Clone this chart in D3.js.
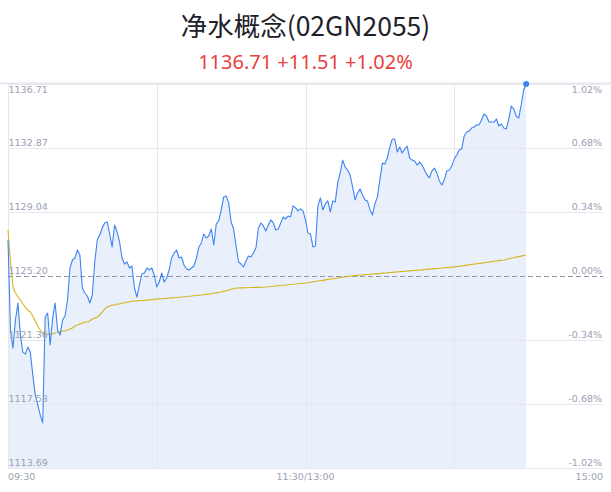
<!DOCTYPE html>
<html><head><meta charset="utf-8">
<script src="https://cdn.jsdelivr.net/npm/d3@7"></script>
<style>
html,body{margin:0;padding:0;background:#fff;}
svg{display:block;}
</style></head>
<body>
<svg id="chart" width="611" height="492"></svg>
<script>
const titleText = "净水概念(02GN2055)";
const subtitleText = "1136.71 +11.51 +1.02%";
const baseValue = 1125.20;
const priceTicks = [1136.71, 1132.87, 1129.04, 1125.20, 1121.36, 1117.53, 1113.69];
const pctTicks = ["1.02%", "0.68%", "0.34%", "0.00%", "-0.34%", "-0.68%", "-1.02%"];
const timeTickMinutes = [0, 120, 240];
const timeTickLabels = ["09:30", "11:30/13:00", "15:00"];
const verticalGridMinutes = [0, 60, 120, 180];

const prices = [
1127.36,1121.96,1120.88,1122.56,1123.58,1121.66,1120.64,1120.52,1120.94,1120.64,
1119.27,1118.07,1117.47,1116.87,1116.39,1122.74,1122.98,1121.06,1122.68,1123.58,
1121.96,1121.66,1122.56,1122.80,1123.76,1125.68,1126.16,1126.28,1126.76,1126.46,
1124.48,1124.18,1124.00,1123.58,1124.06,1126.04,1127.36,1127.66,1128.08,1128.38,
1128.44,1127.72,1126.94,1128.26,1127.84,1127.24,1126.28,1125.92,1126.04,1125.68,
1125.80,1124.48,1123.94,1124.66,1125.32,1125.38,1125.68,1125.56,1125.68,1125.26,
1124.54,1124.84,1125.38,1124.84,1125.08,1125.56,1126.28,1126.58,1126.76,1126.28,
1126.34,1125.86,1125.62,1125.56,1125.68,1125.80,1126.28,1126.94,1127.18,1127.72,
1127.48,1127.60,1128.02,1127.06,1128.32,1128.50,1129.16,1129.94,1130.00,1129.58,
1128.44,1128.02,1127.00,1126.04,1125.92,1125.74,1126.10,1126.40,1126.34,1126.58,
1126.88,1128.08,1128.38,1128.20,1127.90,1128.26,1128.56,1128.38,1127.96,1128.02,
1128.38,1128.74,1128.62,1128.80,1128.74,1129.40,1129.28,1129.10,1129.22,1129.10,
1128.56,1127.78,1127.72,1126.94,1127.00,1129.40,1129.88,1129.16,1129.52,1129.70,
1129.04,1129.70,1129.64,1130.78,1131.38,1132.15,1131.73,1131.55,1131.26,1130.54,
1129.76,1130.18,1130.42,1130.06,1129.76,1129.70,1129.16,1128.86,1129.52,1129.94,
1130.96,1131.97,1131.91,1132.27,1132.93,1133.41,1133.41,1132.63,1132.93,1132.57,
1132.81,1132.99,1132.27,1132.15,1132.09,1131.85,1132.03,1131.85,1131.55,1131.26,
1131.08,1131.50,1131.67,1131.38,1130.90,1130.66,1130.96,1131.50,1131.55,1131.79,
1132.21,1132.45,1132.75,1132.81,1133.59,1133.83,1133.89,1134.07,1134.13,1134.25,
1134.25,1134.55,1134.91,1134.79,1134.43,1134.43,1134.43,1134.61,1134.19,1134.31,
1134.07,1134.01,1134.61,1135.39,1135.21,1134.79,1134.67,1135.45,1136.35,1136.71
];

const avgPrices = [
1127.96,1126.04,1124.54,1124.18,1123.94,1123.76,1123.52,1123.34,1123.16,1123.04,
1122.80,1122.50,1122.20,1121.96,1121.78,1121.72,1121.72,1121.72,1121.72,1121.78,
1121.84,1121.84,1121.90,1121.90,1121.96,1122.02,1122.08,1122.20,1122.26,1122.32,
1122.38,1122.44,1122.44,1122.50,1122.62,1122.68,1122.74,1122.86,1123.04,1123.22,
1123.34,1123.40,1123.46,1123.46,1123.52,1123.52,1123.58,1123.58,1123.64,1123.64,
1123.70,1123.70,1123.71,1123.72,1123.73,1123.74,1123.76,1123.77,1123.78,1123.80,
1123.82,1123.83,1123.84,1123.85,1123.86,1123.88,1123.89,1123.90,1123.91,1123.93,
1123.94,1123.96,1123.97,1123.99,1124.00,1124.02,1124.03,1124.05,1124.06,1124.08,
1124.10,1124.12,1124.15,1124.17,1124.19,1124.22,1124.24,1124.28,1124.32,1124.36,
1124.40,1124.44,1124.48,1124.48,1124.49,1124.49,1124.50,1124.50,1124.51,1124.51,
1124.52,1124.52,1124.53,1124.53,1124.54,1124.56,1124.57,1124.59,1124.60,1124.62,
1124.63,1124.65,1124.66,1124.68,1124.69,1124.71,1124.72,1124.74,1124.75,1124.77,
1124.78,1124.80,1124.83,1124.85,1124.87,1124.90,1124.92,1124.94,1124.97,1124.99,
1125.01,1125.04,1125.06,1125.08,1125.11,1125.13,1125.15,1125.18,1125.20,1125.21,
1125.23,1125.24,1125.25,1125.26,1125.28,1125.29,1125.30,1125.32,1125.33,1125.34,
1125.35,1125.37,1125.38,1125.39,1125.41,1125.42,1125.43,1125.44,1125.46,1125.47,
1125.48,1125.50,1125.51,1125.52,1125.53,1125.55,1125.56,1125.57,1125.59,1125.60,
1125.61,1125.62,1125.64,1125.65,1125.66,1125.68,1125.69,1125.70,1125.71,1125.73,
1125.74,1125.76,1125.78,1125.80,1125.82,1125.85,1125.87,1125.89,1125.91,1125.93,
1125.95,1125.97,1125.99,1126.01,1126.03,1126.06,1126.08,1126.10,1126.12,1126.14,
1126.16,1126.19,1126.23,1126.26,1126.29,1126.33,1126.36,1126.39,1126.43,1126.46
];

(function () {
const svg = d3.select("#chart");
const pLeft = 8, pRight = 603, pTop = 84, pBottom = 468;
const x = d3.scaleLinear().domain([0, 240]).range([pLeft, pRight]);
const y = d3.scaleLinear().domain([priceTicks[priceTicks.length-1], priceTicks[0]]).range([pBottom, pTop]);

const gridColor = "#e6e8ee";
const labelColor = "#9aa1b3";
const fontLatin = "'DejaVu Sans', 'Noto Sans', sans-serif";
const labelSize = 9.5;

svg.append("text").attr("x", 305.5).attr("y", 36).attr("text-anchor", "middle")
  .attr("font-family", "'Noto Sans CJK SC', 'Noto Sans', sans-serif").attr("font-size", 26.5)
  .attr("fill", "#1d2129").text(titleText);
svg.append("text").attr("x", 305.5).attr("y", 69).attr("text-anchor", "middle")
  .attr("font-family", "'Noto Sans', 'Liberation Sans', sans-serif").attr("font-size", 20)
  .attr("fill", "#e8413e").text(subtitleText);

const pts = prices.map((v, i) => [i, v]);
const area = d3.area().x(d => x(d[0])).y0(pBottom).y1(d => y(d[1]));
svg.append("path").datum(pts).attr("d", area).attr("fill", "#e9f0fc");

svg.append("g").selectAll("line").data(priceTicks).join("line")
  .attr("x1", pLeft).attr("x2", pRight)
  .attr("y1", d => Math.round(y(d)) + 0.5).attr("y2", d => Math.round(y(d)) + 0.5)
  .attr("stroke", d => d === baseValue ? "none" : gridColor).attr("stroke-width", 1);
svg.append("line").attr("x1", 0).attr("x2", 611).attr("y1", y(priceTicks[0]) - 0.5).attr("y2", y(priceTicks[0]) - 0.5)
  .attr("stroke", "#e6e8ee").attr("stroke-width", 2);

svg.append("g").selectAll("line").data(verticalGridMinutes).join("line")
  .attr("x1", d => Math.round(x(d)) + 0.5).attr("x2", d => Math.round(x(d)) + 0.5)
  .attr("y1", pTop).attr("y2", pBottom)
  .attr("stroke", gridColor).attr("stroke-width", 1);

svg.append("line").attr("x1", pLeft).attr("x2", pRight)
  .attr("y1", Math.round(y(baseValue)) + 0.5).attr("y2", Math.round(y(baseValue)) + 0.5)
  .attr("stroke", "#8e97ad").attr("stroke-width", 1).attr("stroke-dasharray", "5,3");

const line = d3.line().x(d => x(d[0])).y(d => y(d[1]));
svg.append("path").datum(avgPrices.map((v, i) => [i, v])).attr("d", line)
  .attr("fill", "none").attr("stroke", "#d4b41c").attr("stroke-width", 1.1);

svg.append("path").datum(pts).attr("d", line)
  .attr("fill", "none").attr("stroke", "#3d84f0").attr("stroke-width", 1.1).attr("stroke-linejoin", "round");

const last = pts[pts.length - 1];
svg.append("circle").attr("cx", x(last[0])).attr("cy", y(last[1])).attr("r", 3).attr("fill", "#3d84f0");

svg.append("g").selectAll("text").data(priceTicks).join("text")
  .attr("x", pLeft + 0.5)
  .attr("y", (d, i) => i === 0 ? y(d) + 8.5 : y(d) - 2)
  .attr("font-family", fontLatin).attr("font-size", labelSize).attr("fill", labelColor)
  .text(d => d.toFixed(2));

svg.append("g").selectAll("text").data(pctTicks).join("text")
  .attr("x", pRight - 1)
  .attr("y", (d, i) => i === 0 ? y(priceTicks[i]) + 8.5 : y(priceTicks[i]) - 2)
  .attr("text-anchor", "end")
  .attr("font-family", fontLatin).attr("font-size", labelSize).attr("fill", labelColor)
  .text(d => d);

svg.append("g").selectAll("text").data(timeTickMinutes).join("text")
  .attr("x", d => x(d))
  .attr("y", 480)
  .attr("text-anchor", (d, i) => i === 0 ? "start" : (i === timeTickMinutes.length - 1 ? "end" : "middle"))
  .attr("font-family", fontLatin).attr("font-size", labelSize).attr("fill", labelColor)
  .text((d, i) => timeTickLabels[i]);
})();
</script>
</body></html>
